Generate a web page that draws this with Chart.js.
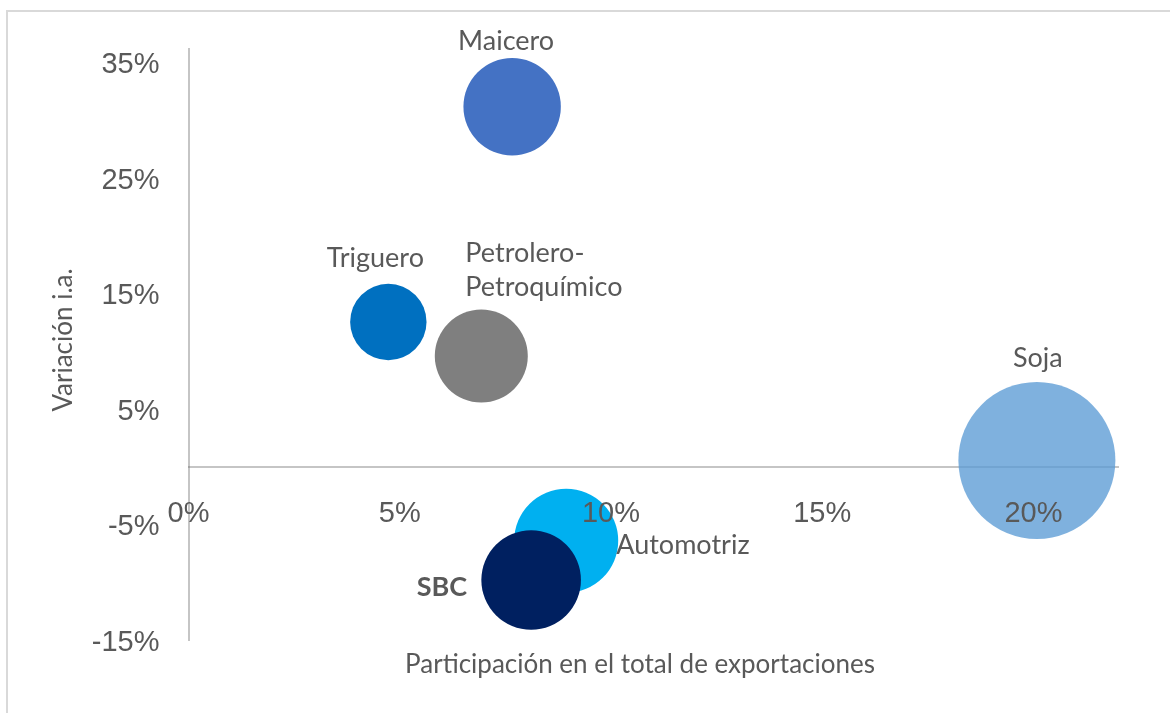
<!DOCTYPE html>
<html>
<head>
<meta charset="utf-8">
<script src="https://cdn.jsdelivr.net/npm/chart.js@4.4.1/dist/chart.umd.min.js"></script>
<style>
  html, body { margin: 0; padding: 0; background: #ffffff; overflow: hidden; }
  #frame { position: absolute; left: 6px; top: 10px; width: 1300px; height: 900px; border: 2px solid #d9d9d9; box-sizing: border-box; }
  #wrap { position: absolute; left: 0; top: 0; width: 1170px; height: 713px; }
</style>
</head>
<body>
<div id="frame"></div>
<div id="wrap"><canvas id="c" width="1170" height="713"></canvas></div>
<script>
// ---- data ----
const categories    = ['Maicero', 'Triguero', 'Petrolero-Petroquímico', 'Soja', 'Automotriz', 'SBC'];
const participacion = [7.66, 4.73, 6.93, 20.08, 8.94, 8.11];      // % of total exports (x)
const variacion     = [31.2, 12.55, 9.6, 0.56, -6.4, -9.8];       // y/y change % (y)
const bubbleRadius  = [48.7, 38.2, 46.5, 78.5, 52.0, 49.8];       // bubble size (px radius)
const xTicks = [0, 5, 10, 15, 20];
const yTicks = [-15, -5, 5, 15, 25, 35];
const xTitle = 'Participación en el total de exportaciones';
const yTitle = 'Variación i.a.';

// ---- styles ----
const colors = ['#4472C4', '#0070C0', '#7F7F7F', 'rgba(91,155,213,0.78)', '#00B0F0', '#002060'];
const labelFont = '"Lato", "Open Sans", sans-serif';
const textColor = '#595959';
const labelPlacement = [
  { lines: ['Maicero'], align: 'center', dx: -6, dy: -65 },
  { lines: ['Triguero'], align: 'center', dx: -13, dy: -64 },
  { lines: ['Petrolero-', 'Petroquímico'], align: 'left', dx: -16, dy: -103, lh: 34 },
  { lines: ['Soja'], align: 'center', dx: 1, dy: -102 },
  { lines: ['Automotriz'], align: 'left', dx: 50, dy: 5 },
  { lines: ['SBC'], align: 'right', dx: -64, dy: 7, bold: true }
];

const points = categories.map((c, i) => ({ x: participacion[i], y: variacion[i], r: bubbleRadius[i] }));

const bubbleLabels = {
  id: 'bubbleLabels',
  afterDatasetsDraw(chart) {
    const ctx = chart.ctx;
    const meta = chart.getDatasetMeta(0);
    ctx.save();
    ctx.fillStyle = textColor;
    ctx.textBaseline = 'middle';
    meta.data.forEach((el, i) => {
      const p = labelPlacement[i];
      ctx.font = (p.bold ? 'bold ' : '') + '27px ' + labelFont;
      ctx.textAlign = p.align;
      const lh = p.lh || 34;
      p.lines.forEach((t, k) => {
        ctx.fillText(t, el.x + p.dx, el.y + p.dy + k * lh);
      });
    });
    // axis titles
    ctx.font = '26px ' + labelFont;
    ctx.textAlign = 'center';
    ctx.fillText(xTitle, 640, 665);
    ctx.save();
    ctx.translate(64, 340);
    ctx.rotate(-Math.PI / 2);
    ctx.fillText(yTitle, 0, 0);
    ctx.restore();
    ctx.restore();
  }
};

const axisLine = { display: true, color: 'rgba(110,110,110,0.40)', width: 2, z: 0 };
const tickFont = { family: '"Liberation Sans", Arial, sans-serif', size: 29 };
const zeroPad = s => { s.paddingLeft = 0; s.paddingRight = 0; s.paddingTop = 0; s.paddingBottom = 0; };

new Chart(document.getElementById('c'), {
  type: 'bubble',
  data: {
    datasets: [{
      data: points,
      backgroundColor: colors,
      borderWidth: 0,
      hoverBorderWidth: 0,
      clip: false
    }]
  },
  options: {
    responsive: false,
    devicePixelRatio: 1,
    animation: false,
    events: [],
    layout: { autoPadding: false, padding: { left: 0, top: 49, right: 52, bottom: 73 } },
    plugins: { legend: { display: false }, tooltip: { enabled: false } },
    scales: {
      x: {
        type: 'linear', min: 0, max: 22, position: { y: 0 },
        grid: { display: false, drawTicks: false },
        border: axisLine,
        ticks: { z: 1, font: tickFont, color: textColor, padding: 30, callback: v => v + '%' },
        afterBuildTicks: s => { s.ticks = xTicks.map(v => ({ value: v })); },
        afterFit: s => { zeroPad(s); }
      },
      y: {
        type: 'linear', min: -15, max: 36.2, position: 'left',
        grid: { display: false, drawTicks: false },
        border: axisLine,
        ticks: { font: tickFont, color: textColor, padding: 29, labelOffset: 2.5, callback: v => v + '%' },
        afterBuildTicks: s => { s.ticks = yTicks.map(v => ({ value: v })); },
        afterFit: s => { s.width = 188.5; zeroPad(s); }
      }
    }
  },
  plugins: [bubbleLabels]
});
</script>
</body>
</html>
